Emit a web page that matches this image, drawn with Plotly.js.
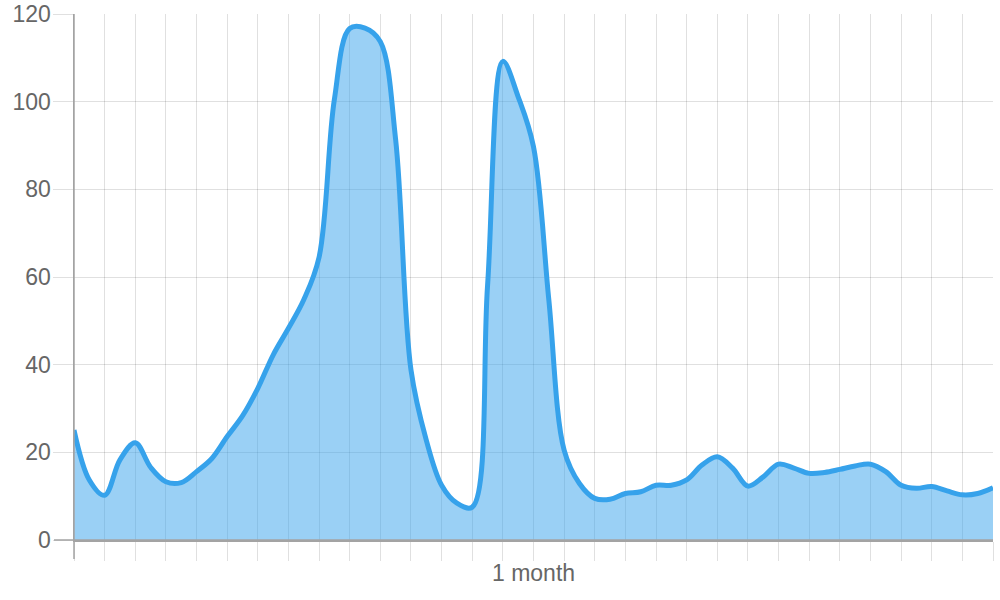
<!DOCTYPE html>
<html>
<head>
<meta charset="utf-8">
<script src="https://cdn.plot.ly/plotly-3.0.1.min.js"></script>
<style>html,body{margin:0;padding:0;background:#fff;}#chart{width:1000px;height:600px;}</style>
</head>
<body>
<div id="chart"></div>
<script>
// x positions in days (half-day sampling)
const xDays = [];
for (let k = 0; k <= 60; k++) xDays.push(k / 2);
const values = [
  25.1, 13.7, 10.2, 18.3, 22.2, 16.6, 13.3, 13.1, 15.6, 18.6,
  23.6, 28.3, 34.6, 42.2, 48.3, 54.8, 64.5, 100.5, 116.7, 116.8,
  113.7, 91.3, 38.8, 22.8, 12.5, 8.4, 7.5, 58.0, 109.2, 101.1,
  89.7, 54.8, 20.5, 12.9, 9.5, 9.3, 10.6, 11.0, 12.5, 12.5,
  13.7, 17.1, 19.0, 16.4, 12.3, 14.4, 17.3, 16.4, 15.2, 15.4,
  16.1, 16.9, 17.3, 15.6, 12.5, 11.8, 12.2, 11.2, 10.3, 10.6,
  11.9
];
const xTickVals = [];
const xTickLabels = [];
for (let i = 0; i <= 30; i++) { xTickVals.push(i); xTickLabels.push(i === 15 ? '1 month' : ''); }
const yTickVals = [0, 20, 40, 60, 80, 100, 120];

const trace = {
  x: xDays, y: values, type: 'scatter', mode: 'lines',
  line: {color: '#36a2eb', width: 5, shape: 'spline', smoothing: 1},
  fill: 'tozeroy', fillcolor: 'rgba(54,162,235,0.5)',
  hoverinfo: 'skip'
};
const axisGrey = '#a3a3a3';
const layout = {
  width: 1000, height: 600,
  margin: {l: 74, r: 7, t: 14, b: 60},
  paper_bgcolor: '#fff', plot_bgcolor: '#fff',
  showlegend: false,
  font: {family: 'Liberation Sans, Arial, sans-serif', size: 23, color: '#666'},
  xaxis: {
    range: [0, 30], tickvals: xTickVals, ticktext: xTickLabels,
    showgrid: true, gridcolor: 'rgba(0,0,0,0.12)', gridwidth: 1,
    ticks: 'outside', ticklen: 19, tickcolor: 'rgba(0,0,0,0.12)', tickwidth: 1,
    showline: true, linecolor: axisGrey, linewidth: 1.5,
    zeroline: false, tickfont: {size: 23, color: '#666'},
    ticklabelstandoff: -7
  },
  yaxis: {
    range: [0, 120], tickvals: yTickVals,
    showgrid: true, gridcolor: 'rgba(0,0,0,0.12)', gridwidth: 1,
    ticks: 'outside', ticklen: 20, tickcolor: 'rgba(0,0,0,0.12)', tickwidth: 1,
    showline: true, linecolor: axisGrey, linewidth: 1.5,
    zeroline: false, tickfont: {size: 23, color: '#666'},
    ticklabelstandoff: -3
  },
  shapes: [
    {type: 'line', xref: 'paper', yref: 'paper', x0: 0, x1: 0, y0: -19/526, y1: 1,
     line: {color: axisGrey, width: 1.5}, layer: 'above'},
    {type: 'line', xref: 'paper', yref: 'paper', x0: -20/919, x1: 1, y0: 0, y1: 0,
     line: {color: axisGrey, width: 1.5}, layer: 'above'}
  ]
};
Plotly.newPlot('chart', [trace], layout, {displayModeBar: false, staticPlot: true});
</script>
</body>
</html>
